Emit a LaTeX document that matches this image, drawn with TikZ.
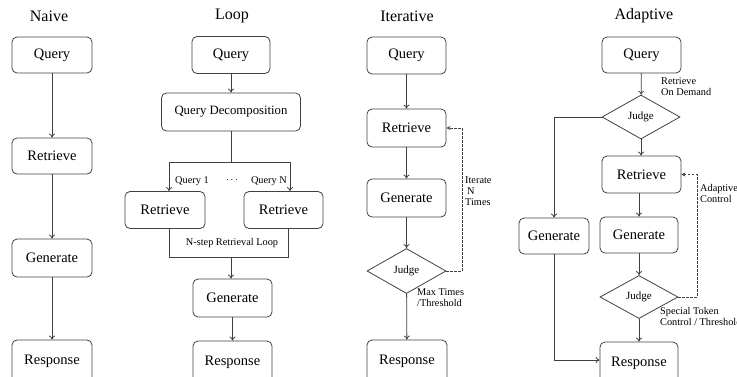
\documentclass[tikz,border=0pt]{standalone}
\usepackage{fontspec}
\setmainfont{Liberation Serif}
\usetikzlibrary{arrows.meta,shapes.geometric}
\definecolor{ln}{HTML}{404040}
\tikzset{
  box/.style={draw=ln, line width=0.8pt, rounded corners=5pt, inner sep=0pt, font=\fontsize{14.5}{16}\selectfont, text=black},
  judge/.style={draw=ln, line width=0.8pt, diamond, inner sep=0pt, aspect=1.8, font=\fontsize{11}{12}\selectfont},
  title/.style={font=\fontsize{16}{18}\selectfont},
  lbl/.style={font=\fontsize{10.3}{12}\selectfont, align=left, inner sep=0pt},
  arr/.style={draw=ln, line width=0.8pt, -{To[length=4pt,width=6pt]}},
  ln/.style={draw=ln, line width=0.8pt},
  darr/.style={draw=ln, line width=0.8pt, dashed, dash pattern=on 2.5pt off 1.5pt, -{Stealth[length=4pt,width=4pt]}},
}
\newcommand{\bx}[5]{\node[box, minimum width=#4pt, minimum height=#5pt] (#1) at (#2,#3)}
\begin{document}
\begin{tikzpicture}[x=1pt,y=-1pt]
\useasboundingbox (0,0) rectangle (737,376);
% ---------- Naive ----------
\node[title] (tn) at (49,16) {Naive};
\bx{nq}{52}{55}{80}{36} {Query};
\bx{nr}{52}{156}{80}{36} {Retrieve};
\bx{ng}{52}{258}{80}{38} {Generate};
\bx{nres}{52}{361}{80}{42} {Response};
\draw[arr] (nq) -- (nr);
\draw[arr] (nr) -- (ng);
\draw[arr] (ng) -- (nres);
% ---------- Loop ----------
\node[title] (tl) at (232,16) {Loop};
\bx{lq}{231}{55}{78}{37} {Query};
\bx{ld}{231}{112}{139}{38} {\fontsize{12.75}{14}\selectfont Query Decomposition};
\bx{lr1}{165}{210}{80}{37} {Retrieve};
\bx{lr2}{283.5}{210}{79}{37} {Retrieve};
\bx{lg}{232.5}{298}{79}{38} {Generate};
\bx{lres}{232.5}{362}{79}{42} {Response};
\draw[arr] (lq) -- (ld);
\coordinate (lb) at (231,162);
\coordinate (lb1) at (169,162);
\coordinate (lb2) at (290,162);
\draw[ln] (ld.south) -- (lb);
\draw[arr] (lb) -- (lb1) -- (lb1 |- lr1.north);
\draw[arr] (lb) -- (lb2) -- (lb2 |- lr2.north);
\node[lbl, anchor=west] (q1) at (175,181) {Query 1};
\node[lbl] (dots) at (232,180) {$\cdots$};
\node[lbl, anchor=east] (qn) at (287,181) {Query N};
\coordinate (lc1) at (169,257);
\coordinate (lc2) at (288,257);
\coordinate (lcm) at (231,257);
\draw[ln] (lc1 |- lr1.south) -- (lc1) -- (lc2) -- (lc2 |- lr2.south);
\draw[arr] (lcm) -- (lcm |- lg.north);
\node[lbl] (nstep) at (232,243) {N-step Retrieval Loop};
\draw[arr] (lg) -- (lres);
% ---------- Iterative ----------
\node[title] (ti) at (407,16) {Iterative};
\bx{iq}{406.5}{55.5}{79}{37} {Query};
\bx{ir}{406.5}{128}{79}{38} {Retrieve};
\bx{ig}{406.5}{198}{79}{38} {Generate};
\node[judge, minimum width=79pt, minimum height=45pt] (ij) at (406.5,271) {Judge};
\bx{ires}{407}{361}{80}{42} {Response};
\draw[arr] (iq) -- (ir);
\draw[arr] (ir) -- (ig);
\draw[arr] (ig) -- (ij);
\draw[arr] (ij) -- (ires);
\coordinate (id1) at (462,271);
\coordinate (id2) at (462,128);
\draw[darr] (ij.east) -- (id1) -- (id2) -- (ir.east);
\node[lbl, anchor=north west] (itn) at (465,177) {Iterate\\[-1pt]\hspace{2pt}N\\[-1pt]Times};
\node[lbl, anchor=north west] (imax) at (417,288) {Max Times\\[-1pt]/Threshold};
% ---------- Adaptive ----------
\node[title] (ta) at (644,16) {Adaptive};
\bx{aq}{641.5}{55}{79}{36} {Query};
\node[judge, minimum width=78pt, minimum height=44pt] (aj1) at (641,117) {Judge};
\bx{ar}{641.5}{174.5}{79}{37} {Retrieve};
\bx{ag}{639}{235}{78}{36} {Generate};
\bx{agl}{554}{236}{70}{36} {Generate};
\node[judge, minimum width=78pt, minimum height=43pt] (aj2) at (639,297) {Judge};
\bx{ares}{639}{363}{78}{42} {Response};
\draw[arr] (aq) -- (aj1);
\draw[arr] (aj1) -- (aj1 |- ar.north);
\draw[arr] (ar.south -| ag.north) -- (ag);
\draw[arr] (ag) -- (aj2);
\draw[arr] (aj2) -- (aj2 |- ares.north);
\coordinate (al1) at (554,117);
\draw[arr] (aj1.west) -- (al1) -- (agl.north);
\coordinate (al2) at (554,360);
\draw[arr] (agl.south) -- (al2) -- (al2 -| ares.west);
\coordinate (ad1) at (697,297);
\coordinate (ad2) at (697,174.5);
\draw[darr] (aj2.east) -- (ad1) -- (ad2) -- (ar.east);
\node[lbl, anchor=north west] (arod) at (661,77) {Retrieve\\[-1pt]On Demand};
\node[lbl, anchor=north west] (aac) at (700,184) {Adaptive\\[-1pt]Control};
\node[lbl, anchor=north west] (ast) at (660,307) {Special Token\\[-1pt]Control / Threshold};
\end{tikzpicture}
\end{document}
